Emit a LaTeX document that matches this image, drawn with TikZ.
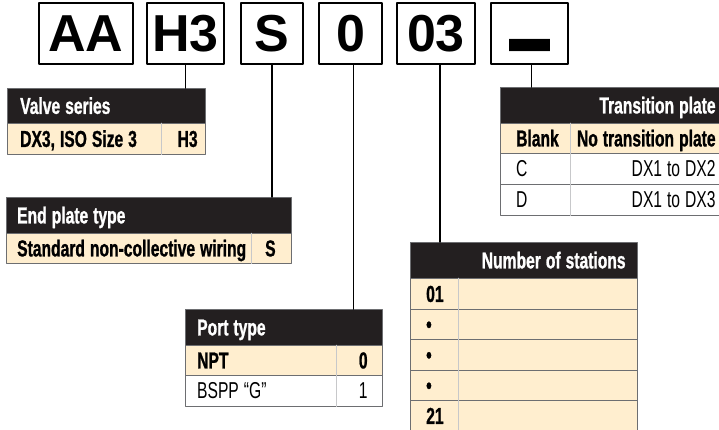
\documentclass[tikz,border=0pt]{standalone}
\usepackage{fontspec}
\setmainfont{Liberation Sans}[FakeStretch=0.68, WordSpace=1.15, BoldFeatures={FakeBold=1}]
\newfontfamily\codefont{Liberation Sans}
\usepackage{xcolor}
\usepackage{graphicx}
\usetikzlibrary{positioning}
\definecolor{hdr}{HTML}{231F20}
\definecolor{cream}{HTML}{FFEECF}
\definecolor{rowline}{HTML}{6D6E71}
\definecolor{divgray}{HTML}{C7C8CA}
\tikzset{
  every picture/.style={line join=round, line cap=round},
  codebox/.style={draw, line width=1.6pt, minimum height=61pt, inner sep=0pt,
    font=\codefont\bfseries\fontsize{52}{52}\selectfont},
  lead/.style={line width=1.6pt},
  headcell/.style={fill=hdr, draw=rowline, line width=0.8pt, anchor=north west,
    minimum height=36pt, inner sep=0pt},
  optcell/.style={fill=cream, draw=rowline, line width=0.8pt, anchor=north west,
    minimum height=31pt, inner sep=0pt},
  plaincell/.style={optcell, fill=white},
  lefttext/.style={anchor=base west, inner sep=0pt, font=\bfseries\fontsize{23}{23}\selectfont},
  righttext/.style={anchor=base east, inner sep=0pt, font=\bfseries\fontsize{23}{23}\selectfont},
  headtext/.style={text=white},
  normal/.style={font=\fontsize{23}{23}\selectfont},
  divline/.style={draw=divgray, line width=0.5pt},
}
\begin{document}
\begin{tikzpicture}[x=1pt,y=-1pt]
\useasboundingbox (0,0) rectangle (719,430);
% ordering code
\node[codebox, minimum width=94pt] (aa) at (86,33.5) {AA};
\node[codebox, minimum width=77pt] (h3) at (185.5,33.5) {H3};
\node[codebox, minimum width=62pt] (s) at (272,33.5) {S};
\node[codebox, minimum width=63pt] (port) at (350.5,33.5) {0};
\node[codebox, minimum width=78pt] (num) at (436,33.5) {03};
\node[codebox, minimum width=77pt] (dash) at (529.5,33.5) {\fontsize{41}{41}\selectfont\raisebox{-45pt}[7pt][7pt]{\scalebox{1}[3]{—}}};
% valve series
\node[headcell, minimum width=198pt, minimum height=35pt] (valvehead) at (7,88) {};
\node[optcell, minimum width=198pt] (valverow) at (7,123) {};
\draw[divline] (161,0 |- valverow.north) -- (161,0 |- valverow.south);
\node[lefttext, headtext] (valvetitle) at ([xshift=13pt,yshift=-8pt]valvehead.west) {Valve series};
\node[lefttext] (valvetext) at ([xshift=13pt,yshift=-8pt]valverow.west) {DX3, ISO Size 3};
\node[righttext] (valvecode) at ([xshift=-8pt,yshift=-8pt]valverow.east) {H3};
% end plate type
\node[headcell, minimum width=285pt] (endhead) at (6,197) {};
\node[optcell, minimum width=285pt, minimum height=30pt] (endrow) at (6,233) {};
\draw[divline] (251,0 |- endrow.north) -- (251,0 |- endrow.south);
\node[lefttext, headtext] (endtitle) at ([xshift=11pt,yshift=-8pt]endhead.west) {End plate type};
\node[lefttext] (endtext) at ([xshift=11pt,yshift=-8pt]endrow.west) {Standard non-collective wiring};
\node[righttext] (endcode) at ([xshift=-16pt,yshift=-8pt]endrow.east) {S};
% port type
\node[headcell, minimum width=197pt] (porthead) at (185,309) {};
\node[optcell, minimum width=197pt, minimum height=30pt] (portrow1) at (185,345) {};
\node[plaincell, minimum width=197pt] (portrow2) at (185,375) {};
\draw[divline] (336,0 |- portrow1.north) -- (336,0 |- portrow2.south);
\node[lefttext, headtext] (porttitle) at ([xshift=12pt,yshift=-8pt]porthead.west) {Port type};
\node[lefttext] (porttext1) at ([xshift=12pt,yshift=-8pt]portrow1.west) {NPT};
\node[lefttext, normal] (porttext2) at ([xshift=12pt,yshift=-8pt]portrow2.west) {BSPP “G”};
\node[righttext] (portcode1) at ([xshift=-15pt,yshift=-8pt]portrow1.east) {0};
\node[righttext, normal] (portcode2) at ([xshift=-15pt,yshift=-8pt]portrow2.east) {1};
% transition plate
\node[headcell, minimum width=224pt] (transhead) at (500,87) {};
\node[optcell, minimum width=224pt, minimum height=30pt] (transrow1) at (500,123) {};
\node[plaincell, minimum width=224pt] (transrow2) at (500,153) {};
\node[plaincell, minimum width=224pt] (transrow3) at (500,184) {};
\draw[divline] (570,0 |- transrow1.north) -- (570,0 |- transrow3.south);
\node[righttext, headtext] (transtitle) at ([xshift=-9pt,yshift=-8pt]transhead.east) {Transition plate};
\node[lefttext] (transtext1) at ([xshift=16pt,yshift=-8pt]transrow1.west) {Blank};
\node[lefttext, normal] (transtext2) at ([xshift=16pt,yshift=-8pt]transrow2.west) {C};
\node[lefttext, normal] (transtext3) at ([xshift=16pt,yshift=-8pt]transrow3.west) {D};
\node[righttext] (transcode1) at ([xshift=-9pt,yshift=-8pt]transrow1.east) {No transition plate};
\node[righttext, normal] (transcode2) at ([xshift=-9pt,yshift=-8pt]transrow2.east) {DX1 to DX2};
\node[righttext, normal] (transcode3) at ([xshift=-9pt,yshift=-8pt]transrow3.east) {DX1 to DX3};
% number of stations
\node[headcell, minimum width=227pt] (stathead) at (410,242) {};
\node[righttext, headtext] (stattitle) at ([xshift=-12pt,yshift=-8pt]stathead.east) {Number of stations};
\foreach \t [count=\i] in {01,•,•,•,21}{
  \node[optcell, minimum width=227pt] (statrow\i) at (410,{278+30.5*(\i-1)}) {};
  \node[lefttext] (stattext\i) at ([xshift=16pt,yshift=-8pt]statrow\i.west) {\t};
}
\draw[divline] (458,0 |- statrow1.north) -- (458,0 |- statrow5.south);
% leads
\draw[lead] (h3.south) -- (h3.south |- valvehead.north);
\draw[lead] (s.south) -- (s.south |- endhead.north);
\draw[lead] ([xshift=3pt]port.south) -- ([xshift=3pt]port.south |- porthead.north);
\draw[lead] ([xshift=4pt]num.south) -- ([xshift=4pt]num.south |- stathead.north);
\draw[lead] ([xshift=2pt]dash.south) -- ([xshift=2pt]dash.south |- transhead.north);
\end{tikzpicture}
\end{document}
